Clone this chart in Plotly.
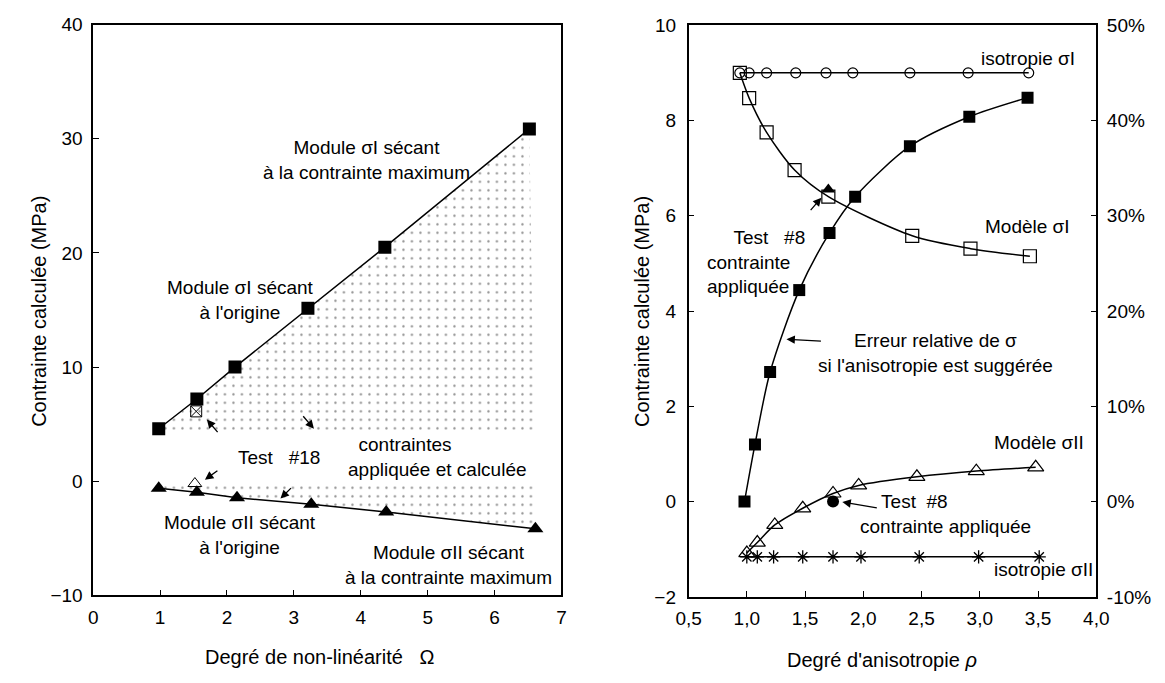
import plotly.graph_objects as go

# ---------------- data : left panel (Degré de non-linéarité) ----------------
omega_sigI = [0.98, 1.55, 2.12, 3.21, 4.36, 6.52]
sigI_secant = [4.6, 7.2, 10.0, 15.15, 20.5, 30.86]
omega_sigII = [0.98, 1.55, 2.15, 3.26, 4.38, 6.61]
sigII_secant = [-0.61, -0.97, -1.44, -2.02, -2.69, -4.16]
test18_omega_I = [1.54]
test18_sigI = [6.12]
test18_omega_II = [1.52]
test18_sigII = [-0.2]

left_x_ticks = [0, 1, 2, 3, 4, 5, 6, 7]
left_y_ticks = [-10, 0, 10, 20, 30, 40]

# ---------------- data : right panel (Degré d'anisotropie) ----------------
rho_iso_I = [0.94, 1.02, 1.17, 1.42, 1.68, 1.91, 2.40, 2.90, 3.42]
iso_I = [9.0, 9.0, 9.0, 9.0, 9.0, 9.0, 9.0, 9.0, 9.0]
rho_model_I = [0.94, 1.02, 1.17, 1.41, 1.70, 2.42, 2.92, 3.43]
model_I = [9.0, 8.47, 7.75, 6.96, 6.40, 5.58, 5.31, 5.15]
rho_err = [0.98, 1.07, 1.20, 1.45, 1.71, 1.93, 2.40, 2.91, 3.41]
err_pct = [0.0, 6.0, 13.6, 22.2, 28.2, 32.0, 37.3, 40.4, 42.4]
rho_model_II = [1.0, 1.09, 1.24, 1.48, 1.74, 1.96, 2.46, 2.97, 3.48]
model_II = [-1.08, -0.86, -0.49, -0.14, 0.17, 0.34, 0.52, 0.64, 0.72]
rho_iso_II = [1.0, 1.09, 1.23, 1.48, 1.74, 1.98, 2.48, 2.99, 3.51]
iso_II = [-1.16, -1.16, -1.16, -1.16, -1.16, -1.16, -1.16, -1.16, -1.16]
test8_rho_I = [1.70]
test8_I = [6.55]
test8_rho_II = [1.74]
test8_II = [0.0]

right_x_ticks = [0.5, 1.0, 1.5, 2.0, 2.5, 3.0, 3.5, 4.0]
right_x_labels = ["0,5", "1,0", "1,5", "2,0", "2,5", "3,0", "3,5", "4,0"]
right_y_ticks = [-2, 0, 2, 4, 6, 8, 10]
err_ticks = [-10, 0, 10, 20, 30, 40, 50]
err_labels = ["-10%", "0%", "10%", "20%", "30%", "40%", "50%"]

# ---------------- styles ----------------
FONT = "Arial, Liberation Sans, sans-serif"
FS_TICK = 19
FS = 19
FS_TITLE = 20
BLK = "black"
LW = 1.5
NB = "\u00a0"
MASK_X = (0.9, 6.9)
MASK_Y = (-0.42, 4.15)

fig = go.Figure()

# dotted region between the two secant lines
fig.add_trace(go.Scatter(
    x=omega_sigI + omega_sigII[::-1], y=sigI_secant + sigII_secant[::-1],
    xaxis="x", yaxis="y", mode="lines", line=dict(width=0),
    fill="toself", fillcolor="rgba(0,0,0,0)",
    fillpattern=dict(shape=".", size=8.5, solidity=0.06, fgcolor="#222", bgcolor="white"),
    hoverinfo="skip", showlegend=False))
# white band behind the central labels
fig.add_trace(go.Scatter(
    x=[MASK_X[0], MASK_X[1], MASK_X[1], MASK_X[0]], y=[MASK_Y[0], MASK_Y[0], MASK_Y[1], MASK_Y[1]],
    xaxis="x", yaxis="y", mode="lines", line=dict(width=0), fill="toself",
    fillcolor="white", hoverinfo="skip", showlegend=False))

fig.add_trace(go.Scatter(x=omega_sigI, y=sigI_secant, xaxis="x", yaxis="y",
                         mode="lines+markers", line=dict(color=BLK, width=LW),
                         marker=dict(symbol="square", size=13, color=BLK), showlegend=False))
fig.add_trace(go.Scatter(x=omega_sigII, y=sigII_secant, xaxis="x", yaxis="y",
                         mode="lines+markers", line=dict(color=BLK, width=LW),
                         marker=dict(symbol="triangle-up", size=14, color=BLK), showlegend=False))
fig.add_trace(go.Scatter(x=test18_omega_I, y=test18_sigI, xaxis="x", yaxis="y", mode="markers",
                         marker=dict(symbol="square-x-open", size=11, color=BLK, line=dict(width=1)),
                         showlegend=False))
fig.add_trace(go.Scatter(x=test18_omega_II, y=test18_sigII, xaxis="x", yaxis="y", mode="markers",
                         marker=dict(symbol="triangle-up-open", size=12, color=BLK, line=dict(width=1)),
                         showlegend=False))

# right panel
fig.add_trace(go.Scatter(x=rho_iso_I, y=iso_I, xaxis="x2", yaxis="y2", mode="lines+markers",
                         line=dict(color=BLK, width=LW),
                         marker=dict(symbol="circle-open", size=10, color=BLK, line=dict(width=1.2)),
                         showlegend=False))
fig.add_trace(go.Scatter(x=rho_model_I, y=model_I, xaxis="x2", yaxis="y2", mode="lines+markers",
                         line=dict(color=BLK, width=LW, shape="spline", smoothing=0.8),
                         marker=dict(symbol="square-open", size=13, color=BLK, line=dict(width=1.2)),
                         showlegend=False))
fig.add_trace(go.Scatter(x=rho_model_II, y=model_II, xaxis="x2", yaxis="y2", mode="lines+markers",
                         line=dict(color=BLK, width=LW, shape="spline", smoothing=0.8),
                         marker=dict(symbol="triangle-up-open", size=14, color=BLK, line=dict(width=1.2)),
                         showlegend=False))
fig.add_trace(go.Scatter(x=rho_iso_II, y=iso_II, xaxis="x2", yaxis="y2", mode="lines+markers",
                         line=dict(color=BLK, width=LW),
                         marker=dict(symbol="asterisk-open", size=11, color=BLK, line=dict(width=1.3, color=BLK)),
                         showlegend=False))
fig.add_trace(go.Scatter(x=rho_err, y=err_pct, xaxis="x2", yaxis="y3", mode="lines+markers",
                         line=dict(color=BLK, width=LW, shape="spline", smoothing=0.8),
                         marker=dict(symbol="square", size=12, color=BLK), showlegend=False))
fig.add_trace(go.Scatter(x=test8_rho_I, y=test8_I, xaxis="x2", yaxis="y2", mode="markers",
                         marker=dict(symbol="triangle-up", size=12, color=BLK), showlegend=False))
fig.add_trace(go.Scatter(x=test8_rho_II, y=test8_II, xaxis="x2", yaxis="y2", mode="markers",
                         marker=dict(symbol="circle", size=12, color=BLK), showlegend=False))

ann = []


def label(text, x, y, xr="x", yr="y", size=FS, **kw):
    d = dict(text=text, x=x, y=y, xref=xr, yref=yr, showarrow=False,
             xanchor="center", yanchor="middle", borderpad=0,
             font=dict(family=FONT, size=size, color=BLK))
    d.update(kw)
    ann.append(d)


def arrow(x, y, ax, ay, xr="x", yr="y"):
    ann.append(dict(text="", x=x, y=y, xref=xr, yref=yr, ax=ax, ay=ay, showarrow=True,
                    arrowhead=2, arrowsize=1.3, arrowwidth=1.3, arrowcolor=BLK))


# left panel labels
label("Module σI sécant<br>à la contrainte maximum", 4.08, 28.1)
label("Module σI sécant<br>à l'origine", 2.2, 15.85)
label("Test" + NB * 3 + "#18", 2.78, 2.08)
label(NB * 2 + "contraintes<br>appliquée et calculée", 3.8, 2.12, xanchor="left", align="left")
label("Module σII sécant<br>à l'origine", 2.19, -4.75)
label("Module σII sécant<br>à la contrainte maximum", 5.31, -7.3)
arrow(1.7, 5.4, 12, 14)
arrow(3.3, 4.6, -12, -14)
arrow(1.67, 0.14, 14, -10)
arrow(2.8, -1.52, 12, -12)

# right panel labels
label("isotropie σI", 3.41, 9.30, "x2", "y2")
label("Modèle σI", 3.41, 5.77, "x2", "y2")
label(NB * 5 + "Test" + NB * 3 + "#8<br>contrainte<br>appliquée", 0.65, 5.02, "x2", "y2",
      xanchor="left", align="left")
label("Erreur relative de σ<br>si l'anisotropie est suggérée", 2.62, 3.12, "x2", "y2")
label("Modèle σII", 3.51, 1.24, "x2", "y2")
label(NB * 4 + "Test" + NB * 2 + "#8<br>contrainte appliquée", 1.96, -0.27, "x2", "y2",
      xanchor="left", align="left")
label("isotropie σII", 3.55, -1.43, "x2", "y2")
arrow(1.64, 6.38, -12, 14, "x2", "y2")
arrow(1.34, 3.41, 36, 2, "x2", "y2")
arrow(1.82, -0.01, 36, 6, "x2", "y2")

# axis titles
label("Contrainte calculée (MPa)", 27 / 1165, 1 - 311 / 683, "paper", "paper", size=FS_TITLE, textangle=-90)
label("Contrainte calculée (MPa)", 644 / 1165, 1 - 311 / 683, "paper", "paper", size=FS_TITLE, textangle=-90)
label("Degré de non-linéarité" + NB * 3 + "Ω", 314 / 1165, 1 - 668 / 683, "paper", "paper", size=FS_TITLE)
label("Degré d'anisotropie <i>ρ</i>", 889 / 1165, 1 - 671 / 683, "paper", "paper", size=FS_TITLE)

axis_common = dict(showline=True, linecolor=BLK, linewidth=LW, ticks="inside", ticklen=6,
                   tickcolor=BLK, tickwidth=1.2, showgrid=False, zeroline=False,
                   tickfont=dict(family=FONT, size=FS_TICK, color=BLK))

fig.update_layout(
    width=1165, height=683, margin=dict(l=0, r=0, t=0, b=0),
    paper_bgcolor="white", plot_bgcolor="white", showlegend=False,
    font=dict(family=FONT, size=FS, color=BLK),
    xaxis=dict(domain=[82 / 1165, 561 / 1165], range=[0, 7], tickvals=left_x_ticks,
               anchor="y", mirror=True, ticklabelstandoff=4, **axis_common),
    yaxis=dict(domain=[1 - 604 / 683, 1 - 15 / 683], range=[-10, 40], tickvals=left_y_ticks,
               anchor="x", mirror=True, ticklabelstandoff=5, **axis_common),
    xaxis2=dict(domain=[691 / 1165, 1108 / 1165], range=[0.5, 4.0], tickvals=right_x_ticks,
                ticktext=right_x_labels, anchor="y2", mirror=True, ticklabelstandoff=4, **axis_common),
    yaxis2=dict(domain=[1 - 605.5 / 683, 1 - 15.7 / 683], range=[-2, 10], tickvals=right_y_ticks,
                anchor="x2", mirror=True, ticklabelstandoff=7, **axis_common),
    yaxis3=dict(range=[-10, 50], tickvals=err_ticks, ticktext=err_labels, overlaying="y2",
                side="right", anchor="x2", ticklabelstandoff=5, **axis_common),
    annotations=ann,
)

fig.write_html("out.html")
